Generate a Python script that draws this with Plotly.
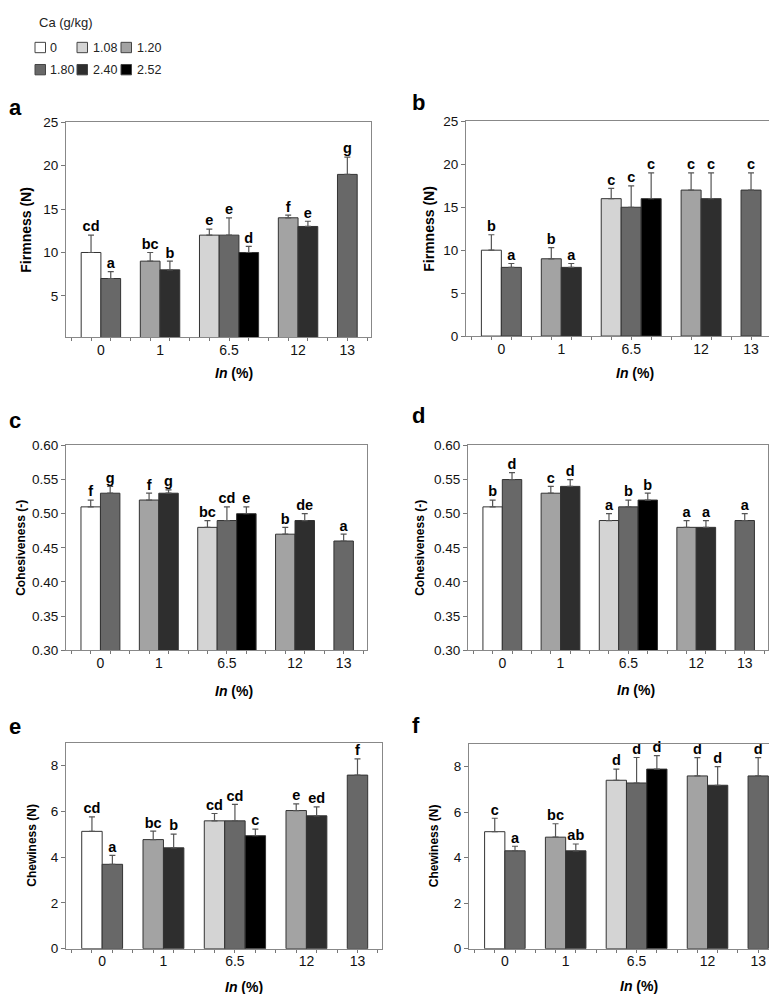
import plotly.graph_objects as go

W, H = 777, 994

# In (%) groups and the Ca level of each bar (left to right)
in_groups = ["0", "1", "6.5", "12", "13"]
group_sizes = [2, 2, 3, 2, 1]
bar_ca = ["0", "1.80", "1.20", "2.40", "1.08", "1.80", "2.52", "1.20", "2.40", "1.80"]

ca_levels = ["0", "1.08", "1.20", "1.80", "2.40", "2.52"]
ca_colors = ["#ffffff", "#d4d4d4", "#a3a3a3", "#686868", "#2e2e2e", "#000000"]

# a - Firmness
firm_a = [10, 7, 9, 8, 12, 12, 10, 14, 13, 19]
firm_a_err = [2, 0.8, 1, 1, 0.7, 2, 0.7, 0.3, 0.6, 2]
firm_a_lab = ["cd", "a", "bc", "b", "e", "e", "d", "f", "e", "g"]
# b - Firmness
firm_b = [10, 8, 9, 8, 16, 15, 16, 17, 16, 17]
firm_b_err = [1.8, 0.45, 1.3, 0.45, 1.2, 2.5, 3, 2, 3, 2]
firm_b_lab = ["b", "a", "b", "a", "c", "c", "c", "c", "c", "c"]
# c - Cohesiveness
coh_c = [0.51, 0.53, 0.52, 0.53, 0.48, 0.49, 0.50, 0.47, 0.49, 0.46]
coh_c_err = [0.01, 0.01, 0.01, 0.005, 0.01, 0.02, 0.01, 0.01, 0.01, 0.01]
coh_c_lab = ["f", "g", "f", "g", "bc", "cd", "e", "b", "de", "a"]
# d - Cohesiveness
coh_d = [0.51, 0.55, 0.53, 0.54, 0.49, 0.51, 0.52, 0.48, 0.48, 0.49]
coh_d_err = [0.01, 0.01, 0.01, 0.01, 0.01, 0.01, 0.01, 0.01, 0.01, 0.01]
coh_d_lab = ["b", "d", "c", "d", "a", "b", "b", "a", "a", "a"]
# e - Chewiness
chew_e = [5.13, 3.69, 4.77, 4.41, 5.59, 5.59, 4.94, 6.04, 5.81, 7.59]
chew_e_err = [0.63, 0.39, 0.37, 0.6, 0.32, 0.72, 0.29, 0.29, 0.39, 0.71]
chew_e_lab = ["cd", "a", "bc", "b", "cd", "cd", "c", "e", "ed", "f"]
# f - Chewiness
chew_f = [5.14, 4.3, 4.9, 4.3, 7.4, 7.28, 7.89, 7.59, 7.18, 7.59]
chew_f_err = [0.59, 0.2, 0.59, 0.3, 0.49, 1.12, 0.59, 0.8, 0.82, 0.8]
chew_f_lab = ["c", "a", "bc", "ab", "d", "d", "d", "d", "d", "d"]

FONT = "Liberation Sans, Arial, sans-serif"


def px_x(v):
    return v / W


def px_y(v):
    return 1 - v / H


# slot positions: one empty slot between groups
bar_x, group_x = [], []
pos = 1
for n in group_sizes:
    bar_x += list(range(pos, pos + n))
    group_x.append(pos + (n - 1) / 2)
    pos += n + 1

panels = [
    dict(tag="a", v=firm_a, e=firm_a_err, lab=firm_a_lab, yt="Firmness (N)", ys=14,
         box=(58, 363, 109, 327), yr=[0.25, 25], tv=[5, 10, 15, 20, 25], fmt="",
         ytx=18, xtx=226, xty=363, tagxy=(7, 94)),
    dict(tag="b", v=firm_b, e=firm_b_err, lab=firm_b_lab, yt="Firmness (N)", ys=14,
         box=(458, 767, 108, 326), yr=[0, 25], tv=[0, 5, 10, 15, 20, 25], fmt="",
         ytx=421, xtx=627, xty=363, tagxy=(410, 89)),
    dict(tag="c", v=coh_c, e=coh_c_err, lab=coh_c_lab, yt="Cohesiveness (-)", ys=12,
         box=(58, 359, 437, 645), yr=[0.3, 0.6], tv=[0.3, 0.35, 0.4, 0.45, 0.5, 0.55, 0.6], fmt=".2f",
         ytx=13, xtx=226, xty=686, tagxy=(7, 412)),
    dict(tag="d", v=coh_d, e=coh_d_err, lab=coh_d_lab, yt="Cohesiveness (-)", ys=12,
         box=(460, 760, 437, 645), yr=[0.3, 0.6], tv=[0.3, 0.35, 0.4, 0.45, 0.5, 0.55, 0.6], fmt=".2f",
         ytx=412, xtx=628, xty=685, tagxy=(410, 407)),
    dict(tag="e", v=chew_e, e=chew_e_err, lab=chew_e_lab, yt="Chewiness (N)", ys=12,
         box=(58, 374, 739, 948), yr=[0, 9], tv=[0, 2, 4, 6, 8], fmt="",
         ytx=24, xtx=236, xty=987, tagxy=(7, 722)),
    dict(tag="f", v=chew_f, e=chew_f_err, lab=chew_f_lab, yt="Chewiness (N)", ys=12,
         box=(461, 774.5, 740, 948), yr=[0, 9], tv=[0, 2, 4, 6, 8], fmt="",
         ytx=426, xtx=631, xty=986, tagxy=(408, 721)),
]

fig = go.Figure()
annotations = []
shapes = []

for i, p in enumerate(panels, start=1):
    xa = "x" if i == 1 else f"x{i}"
    ya = "y" if i == 1 else f"y{i}"
    for lvl, col in zip(ca_levels, ca_colors):
        idx = [k for k, c in enumerate(bar_ca) if c == lvl]
        if not idx:
            continue
        fig.add_trace(go.Bar(
            x=[bar_x[k] for k in idx], y=[p["v"][k] for k in idx], width=1,
            marker=dict(color=col, line=dict(color="#333333", width=1)),
            error_y=dict(type="data", symmetric=False, array=[p["e"][k] for k in idx],
                         arrayminus=[0] * len(idx), color="#555555", thickness=1.2, width=3),
            xaxis=xa, yaxis=ya, showlegend=False, name=lvl,
        ))
    fig.add_trace(go.Scatter(
        x=bar_x, y=[v + e for v, e in zip(p["v"], p["e"])], text=p["lab"], mode="text",
        textposition="top center", cliponaxis=False,
        textfont=dict(family=FONT, size=14.5, color="#000000", weight="bold"),
        xaxis=xa, yaxis=ya, showlegend=False, hoverinfo="skip",
    ))

    x0, x1, y0, y1 = p["box"]
    sfx = "" if i == 1 else str(i)
    fig.layout["xaxis" + sfx] = dict(
        domain=[px_x(x0), px_x(x1)], anchor=ya, range=[-0.27, 15.2],
        tickvals=group_x, ticktext=in_groups, ticks="",
        minor=dict(tickvals=list(range(16)), ticks="outside", ticklen=3, tickcolor="#777777", tickwidth=1),
        showline=True, linecolor="#888888", linewidth=1, mirror=True, showgrid=False, zeroline=False,
        tickfont=dict(family=FONT, size=14, color="#111111"),
    )
    fig.layout["yaxis" + sfx] = dict(
        domain=[px_y(y1), px_y(y0)], anchor=xa, range=p["yr"],
        tickvals=p["tv"], tickformat=p["fmt"], ticks="outside", ticklen=4, tickcolor="#777777",
        showline=True, linecolor="#888888", linewidth=1, mirror=True, showgrid=False, zeroline=False,
        tickfont=dict(family=FONT, size=13.5, color="#111111"),
    )
    annotations.append(dict(
        text=f"<b>{p['yt']}</b>", textangle=-90, x=px_x(p["ytx"]), y=px_y((y0 + y1) / 2),
        xref="paper", yref="paper", showarrow=False, xanchor="center", yanchor="middle",
        font=dict(family=FONT, size=p["ys"], color="#000000"),
    ))
    annotations.append(dict(
        text="<b><i>In</i> (%)</b>", x=px_x(p["xtx"]), y=px_y(p["xty"]),
        xref="paper", yref="paper", showarrow=False, xanchor="center", yanchor="middle",
        font=dict(family=FONT, size=14, color="#000000"),
    ))
    annotations.append(dict(
        text=f"<b>{p['tag']}</b>", x=px_x(p["tagxy"][0]), y=px_y(p["tagxy"][1]),
        xref="paper", yref="paper", showarrow=False, xanchor="center", yanchor="middle",
        font=dict(family=FONT, size=22, color="#000000"),
    ))

# legend box drawn by hand: Ca (g/kg) title and two rows of three swatches
annotations.append(dict(
    text="Ca (g/kg)", x=px_x(29), y=px_y(8), xref="paper", yref="paper", showarrow=False,
    xanchor="left", yanchor="middle", font=dict(family=FONT, size=13, color="#222222"),
))
sw_x = [27, 69, 113]
txt_x = [40, 83, 127]
row_y = [33, 55.5]
for k, (lvl, col) in enumerate(zip(ca_levels, ca_colors)):
    r, c = divmod(k, 3)
    cx, cy = sw_x[c], row_y[r]
    shapes.append(dict(
        type="rect", xref="paper", yref="paper",
        x0=px_x(cx), x1=px_x(cx + 10.5), y0=px_y(cy + 5.25), y1=px_y(cy - 5.25),
        fillcolor=col, line=dict(color="#444444", width=1),
    ))
    annotations.append(dict(
        text=lvl, x=px_x(txt_x[c]), y=px_y(cy), xref="paper", yref="paper", showarrow=False,
        xanchor="left", yanchor="middle", font=dict(family=FONT, size=12.5, color="#222222"),
    ))

fig.update_layout(
    width=W, height=H, margin=dict(l=0, r=0, t=0, b=0),
    paper_bgcolor="white", plot_bgcolor="white", barmode="overlay",
    annotations=annotations, shapes=shapes, showlegend=False,
    font=dict(family=FONT, color="#111111"),
)

fig.write_html("out.html")
